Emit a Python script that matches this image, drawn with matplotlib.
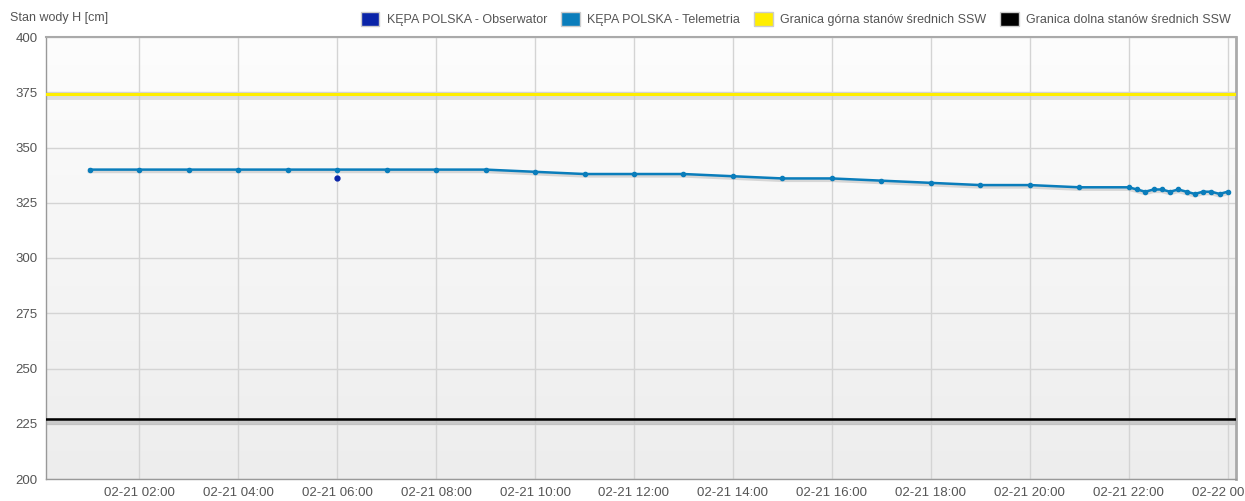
import numpy as np
import matplotlib
matplotlib.use('Agg')
import matplotlib.pyplot as plt
import matplotlib.dates as mdates
from matplotlib.patches import Patch
from datetime import datetime, timedelta

plt.rcParams['font.family'] = ['Liberation Sans', 'DejaVu Sans']

# Telemetry: hourly 01:00-21:00, then every 10 min 22:00-00:00
tele_hours = list(range(1, 22))
tele_hourly = [340, 340, 340, 340, 340, 340, 340, 340, 340, 339, 338, 338, 338,
               337, 336, 336, 335, 334, 333, 333, 332]
tele_10min = [332, 331, 330, 331, 331, 330, 331, 330, 329, 330, 330, 329, 330]

obs_time = [datetime(2024, 2, 21, 6, 0)]
obs_vals = [336]

upper_ssw = 374
lower_ssw = 227

labels = ['KĘPA POLSKA - Obserwator', 'KĘPA POLSKA - Telemetria',
          'Granica górna stanów średnich SSW', 'Granica dolna stanów średnich SSW']
colors = ['#0a24a8', '#0a7dbb', '#ffee00', '#000000']

base = datetime(2024, 2, 21)
tele_time = [base + timedelta(hours=h) for h in tele_hours]
tele_time += [base + timedelta(hours=22, minutes=10 * i) for i in range(len(tele_10min))]
tele_vals = tele_hourly + tele_10min

fig = plt.figure(figsize=(12.45, 5.01), dpi=100)
ax = fig.add_axes([46 / 1245, 22 / 501, (1236 - 46) / 1245, (479 - 37) / 501])

x0 = base + timedelta(minutes=7)
x1 = base + timedelta(days=1, minutes=10)
ax.set_xlim(x0, x1)
ax.set_ylim(200, 400)

# background gradient
grad = np.linspace(0, 1, 256).reshape(-1, 1)
ax.imshow(grad, extent=[0, 1, 0, 1], transform=ax.transAxes, aspect='auto',
          cmap=matplotlib.colors.LinearSegmentedColormap.from_list('g', ['#ededed', '#fdfdfd']),
          origin='lower', zorder=0)

ax.grid(True, color='#d4d4d4', linewidth=1, zorder=1)
ax.set_axisbelow(True)

# threshold lines with shadow
ax.axhline(upper_ssw - 0.5, color='#cccccc', linewidth=5, alpha=0.6, zorder=2)
ax.axhline(upper_ssw, color=colors[2], linewidth=2.2, zorder=3)
ax.axhline(lower_ssw - 0.8, color='#bbbbbb', linewidth=5, alpha=0.7, zorder=2)
ax.axhline(lower_ssw, color=colors[3], linewidth=1.8, zorder=3)

# telemetry with shadow
ax.plot(tele_time, np.array(tele_vals) - 0.7, color='#999999', linewidth=3, alpha=0.35, zorder=3)
ax.plot(tele_time, tele_vals, color=colors[1], linewidth=1.8, marker='o', markersize=3, zorder=4)
ax.plot(obs_time, obs_vals, linestyle='none', color=colors[0], marker='o', markersize=3.5, zorder=5)

ax.xaxis.set_major_locator(mdates.HourLocator(byhour=range(0, 24, 2)))
ax.xaxis.set_major_formatter(mdates.DateFormatter('%m-%d %H:%M'))
ax.set_yticks(range(200, 401, 25))
ax.tick_params(axis='both', length=0, labelsize=9.5, colors='#555555', pad=6)
ax.tick_params(axis='y', pad=6)

for s in ax.spines.values():
    s.set_color('#999999')
    s.set_linewidth(1)
ax.spines['right'].set_linewidth(2)
ax.spines['right'].set_color('#aaaaaa')
ax.spines['top'].set_linewidth(1.5)
ax.spines['top'].set_color('#aaaaaa')

fig.text(10 / 1245, 1 - 18 / 501, 'Stan wody H [cm]', fontsize=9, color='#555555', va='center')

handles = [Patch(facecolor=c, edgecolor='#cccccc', linewidth=1) for c in colors]
fig.legend(handles, labels, loc='center right', bbox_to_anchor=(1236 / 1245, 1 - 19 / 501),
           ncol=4, frameon=False, fontsize=9, handlelength=1.5, handleheight=1.3,
           handletextpad=0.6, columnspacing=1.1, labelcolor='#555555', borderaxespad=0)

fig.savefig('out.png', dpi=100)
